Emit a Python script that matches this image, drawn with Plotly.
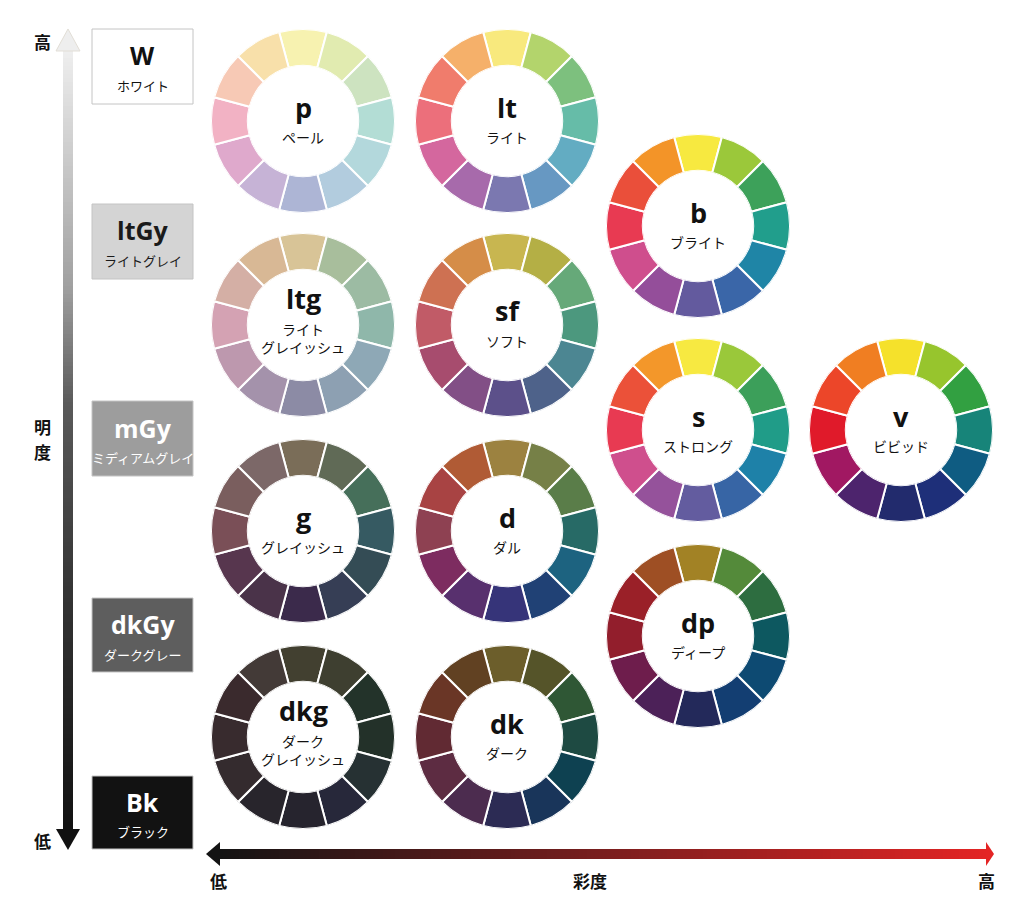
import plotly.graph_objects as go

W, H = 1024, 907
OFF = 8  # page body margin offset

# ---------------- data ----------------
hue_angles = [0, 30, 60, 90, 120, 150, 180, 210, 240, 270, 300, 330]
hue_widths = [30, 30, 30, 30, 30, 30, 30, 30, 30, 30, 30, 30]
hue_share = [1, 1, 1, 1, 1, 1, 1, 1, 1, 1, 1, 1]

tone_codes = ["p", "lt", "b", "ltg", "sf", "s", "v", "g", "d", "dp", "dkg", "dk"]
tone_names = ["ペール", "ライト", "ブライト", "ライト<br>グレイッシュ", "ソフト", "ストロング",
              "ビビッド", "グレイッシュ", "ダル", "ディープ", "ダーク<br>グレイッシュ", "ダーク"]
tone_chroma_col = [0, 1, 2, 0, 1, 2, 3, 0, 1, 2, 0, 1]
tone_light_row = [0, 0, 1, 2, 2, 3, 3, 4, 4, 5, 6, 6]

p_colors = ["#F7F2B0", "#E1EBB0", "#CDE3C0", "#B3DDD5", "#B3D8DC", "#B2CCDE",
            "#ADB5D5", "#C6B3D6", "#DFA9CC", "#F2B2C4", "#F7C9B5", "#F8E0AA"]
lt_colors = ["#F8E97D", "#B3D46C", "#7DC07E", "#66BCA8", "#63ACC2", "#6798C2",
             "#7B78B0", "#A76AAB", "#D4679E", "#EC6F7B", "#F07C6C", "#F5B06A"]
b_colors = ["#F7E940", "#9BC83A", "#3DA15A", "#219E8C", "#1F85A6", "#3A66A8",
            "#635A9E", "#944E9A", "#CF4E8D", "#E83A52", "#EA4F3A", "#F39428"]
ltg_colors = ["#D8C497", "#A8BE9C", "#9CBBA3", "#8FB7AA", "#8EA8B6", "#8DA0B2",
              "#8C8BA5", "#A492AB", "#BD98AE", "#D4A2B3", "#D4AFA5", "#D8B895"]
sf_colors = ["#C8B650", "#B4AF45", "#66A979", "#4C987E", "#4C8692", "#4E628A",
             "#5C508A", "#824F86", "#A74C6E", "#C15B67", "#CE7152", "#D58D48"]
s_colors = ["#F7E941", "#9AC83A", "#3C9F5A", "#209C88", "#1E81A8", "#3765A5",
            "#635C9F", "#95529B", "#CF4F8D", "#E83A52", "#EB5139", "#F3972A"]
v_colors = ["#F5E12B", "#97C52D", "#32A041", "#178479", "#0F5C82", "#1E2F79",
            "#222B6D", "#4D246D", "#A11862", "#E01A2A", "#EC4629", "#F07E22"]
g_colors = ["#7A6D58", "#606A56", "#466F5A", "#365A62", "#344C55", "#363E55",
            "#3B2A4B", "#4A3349", "#57364E", "#7A4F57", "#7A5E5E", "#7C6868"]
d_colors = ["#9C8240", "#768047", "#5A7D49", "#276A66", "#1D6380", "#204175",
            "#363479", "#58306E", "#7D2C60", "#8E4152", "#A84343", "#B05B35"]
dp_colors = ["#A28225", "#548A3A", "#2D6D40", "#0D5860", "#0D4A72", "#133E72",
             "#23295A", "#4C2158", "#6E1D4C", "#921E2C", "#9A2028", "#9E4F24"]
dkg_colors = ["#424030", "#3E3F30", "#23332A", "#233129", "#263133", "#27283A",
              "#26242E", "#28252C", "#342B2E", "#382B2E", "#3A2A2D", "#433A37"]
dk_colors = ["#6C5E2B", "#555429", "#2F5735", "#1E4A42", "#0E4151", "#19355A",
             "#2C2B54", "#4C2C4F", "#5D2C42", "#612A33", "#6A3626", "#614122"]
tone_colors = [p_colors, lt_colors, b_colors, ltg_colors, sf_colors, s_colors,
               v_colors, g_colors, d_colors, dp_colors, dkg_colors, dk_colors]

gray_codes = ["W", "ltGy", "mGy", "dkGy", "Bk"]
gray_names = ["ホワイト", "ライトグレイ", "ミディアムグレイ", "ダークグレー", "ブラック"]
gray_fill = ["#FFFFFF", "#D4D4D4", "#9D9D9D", "#5E5E5E", "#121212"]
gray_text = ["#111111", "#1A1A1A", "#FFFFFF", "#FFFFFF", "#FFFFFF"]

axis_v_labels = ["高", "明", "度", "低"]
axis_h_labels = ["低", "彩度", "高"]

# ---------------- layout constants ----------------
col_x = [303, 507, 698, 901]
row_y = [121, 226, 325, 430, 531, 636, 737]
R = 92
HOLE = 0.6
box_x0, box_x1 = 92, 193
box_y = [(29, 104), (204, 279), (401, 476), (598, 672), (776, 849)]

JP = "Noto Sans CJK JP"
LAT = "Open Sans, Noto Sans CJK JP"


def px(x):
    return (x - OFF) / W


def py(y):
    return 1 - (y - OFF) / H


def hexrgb(h):
    h = h.lstrip("#")
    return tuple(int(h[i:i + 2], 16) for i in (0, 2, 4))


def interp(stops, t):
    for (t0, c0), (t1, c1) in zip(stops, stops[1:]):
        if t0 <= t <= t1:
            f = (t - t0) / (t1 - t0) if t1 > t0 else 0
            a, b = hexrgb(c0), hexrgb(c1)
            return "rgb(%d,%d,%d)" % tuple(round(a[k] + (b[k] - a[k]) * f) for k in range(3))
    a = hexrgb(stops[-1][1])
    return "rgb(%d,%d,%d)" % a


def label(x, y, text, size, color, family, bold=False):
    f = dict(family=family, size=size, color=color)
    if bold:
        f["weight"] = "bold"
    return dict(x=px(x), y=py(y), xref="paper", yref="paper", text=text, showarrow=False,
                xanchor="center", yanchor="middle", font=f)


fig = go.Figure()
layout_polars = {}
annotations = []
shapes = []

for i, code in enumerate(tone_codes):
    key = "polar" if i == 0 else "polar%d" % (i + 1)
    cx = col_x[tone_chroma_col[i]]
    cy = row_y[tone_light_row[i]]
    fig.add_trace(go.Barpolar(
        r=hue_share, theta=hue_angles, width=hue_widths,
        marker=dict(color=tone_colors[i], line=dict(color="white", width=2)),
        subplot=key, showlegend=False, hoverinfo="skip"))
    layout_polars[key] = dict(
        domain=dict(x=[px(cx - R), px(cx + R)], y=[py(cy + R), py(cy - R)]),
        hole=HOLE, bgcolor="rgba(0,0,0,0)",
        radialaxis=dict(visible=False, range=[0, 1]),
        angularaxis=dict(visible=False, rotation=90, direction="clockwise"))
    two = "<br>" in tone_names[i]
    annotations.append(label(cx, cy - (27 if two else 14), code, 27, "#111111", LAT, True))
    annotations.append(label(cx, cy + (13 if two else 16), tone_names[i], 14, "#111111", JP))

# gray boxes
for i, gc in enumerate(gray_codes):
    y0, y1 = box_y[i]
    shapes.append(dict(type="rect", xref="paper", yref="paper",
                       x0=px(box_x0), x1=px(box_x1), y0=py(y1), y1=py(y0),
                       fillcolor=gray_fill[i], line=dict(color="#C4C4C4", width=1), layer="below"))
    cyb = (y0 + y1) / 2
    bx = (box_x0 + box_x1) / 2
    annotations.append(label(bx, cyb - 11, gc, 25, gray_text[i], LAT, True))
    annotations.append(label(bx, cyb + 19, gray_names[i], 13, gray_text[i], JP))

# vertical gradient arrow (lightness)
vstops = [(0.0, "#EEEEEE"), (0.3, "#A0A0A0"), (0.45, "#5A5A5A"), (0.7, "#333333"), (1.0, "#111111")]
vx0, vx1 = 63, 73
vy_top, vy_bot = 50, 831
step = 4
y = vy_top
while y < vy_bot:
    t = (y - vy_top) / (vy_bot - vy_top)
    shapes.append(dict(type="rect", xref="paper", yref="paper", x0=px(vx0), x1=px(vx1),
                       y0=py(min(y + step + 0.5, vy_bot)), y1=py(y),
                       fillcolor=interp(vstops, t), line=dict(width=0)))
    y += step
shapes.append(dict(type="path", xref="paper", yref="paper",
                   path="M %f %f L %f %f L %f %f Z" % (px(68), py(29), px(56), py(51), px(80), py(51)),
                   fillcolor="#EEEEEE", line=dict(color="#E2DED6", width=1)))
shapes.append(dict(type="path", xref="paper", yref="paper",
                   path="M %f %f L %f %f L %f %f Z" % (px(68), py(850), px(56), py(829), px(80), py(829)),
                   fillcolor="#111111", line=dict(width=0)))

# horizontal gradient arrow (chroma)
hstops = [(0.0, "#141414"), (0.5, "#7A1E1E"), (1.0, "#E42424")]
hx_l, hx_r = 219, 988
hy0, hy1 = 849, 859
x = hx_l
while x < hx_r:
    t = (x - hx_l) / (hx_r - hx_l)
    shapes.append(dict(type="rect", xref="paper", yref="paper",
                       x0=px(x), x1=px(min(x + step + 0.5, hx_r)), y0=py(hy1), y1=py(hy0),
                       fillcolor=interp(hstops, t), line=dict(width=0)))
    x += step
shapes.append(dict(type="path", xref="paper", yref="paper",
                   path="M %f %f L %f %f L %f %f Z" % (px(206), py(854), px(220), py(842), px(220), py(866)),
                   fillcolor="#141414", line=dict(width=0)))
shapes.append(dict(type="path", xref="paper", yref="paper",
                   path="M %f %f L %f %f L %f %f Z" % (px(994), py(854), px(986), py(842), px(986), py(866)),
                   fillcolor="#E42424", line=dict(width=0)))

# axis labels
v_pos = [(42, 41), (42, 427), (42, 452), (42, 840)]
for lab, (lx, ly) in zip(axis_v_labels, v_pos):
    annotations.append(label(lx, ly, lab, 17, "#111111", JP, True))
h_pos = [(218, 880), (590, 880), (986, 880)]
for lab, (lx, ly) in zip(axis_h_labels, h_pos):
    annotations.append(label(lx, ly, lab, 17, "#111111", JP, True))

fig.update_layout(
    width=W, height=H, margin=dict(l=0, r=0, t=0, b=0),
    paper_bgcolor="white", plot_bgcolor="white", template="none",
    showlegend=False, annotations=annotations, shapes=shapes,
    **layout_polars)

fig.write_html("out.html")
